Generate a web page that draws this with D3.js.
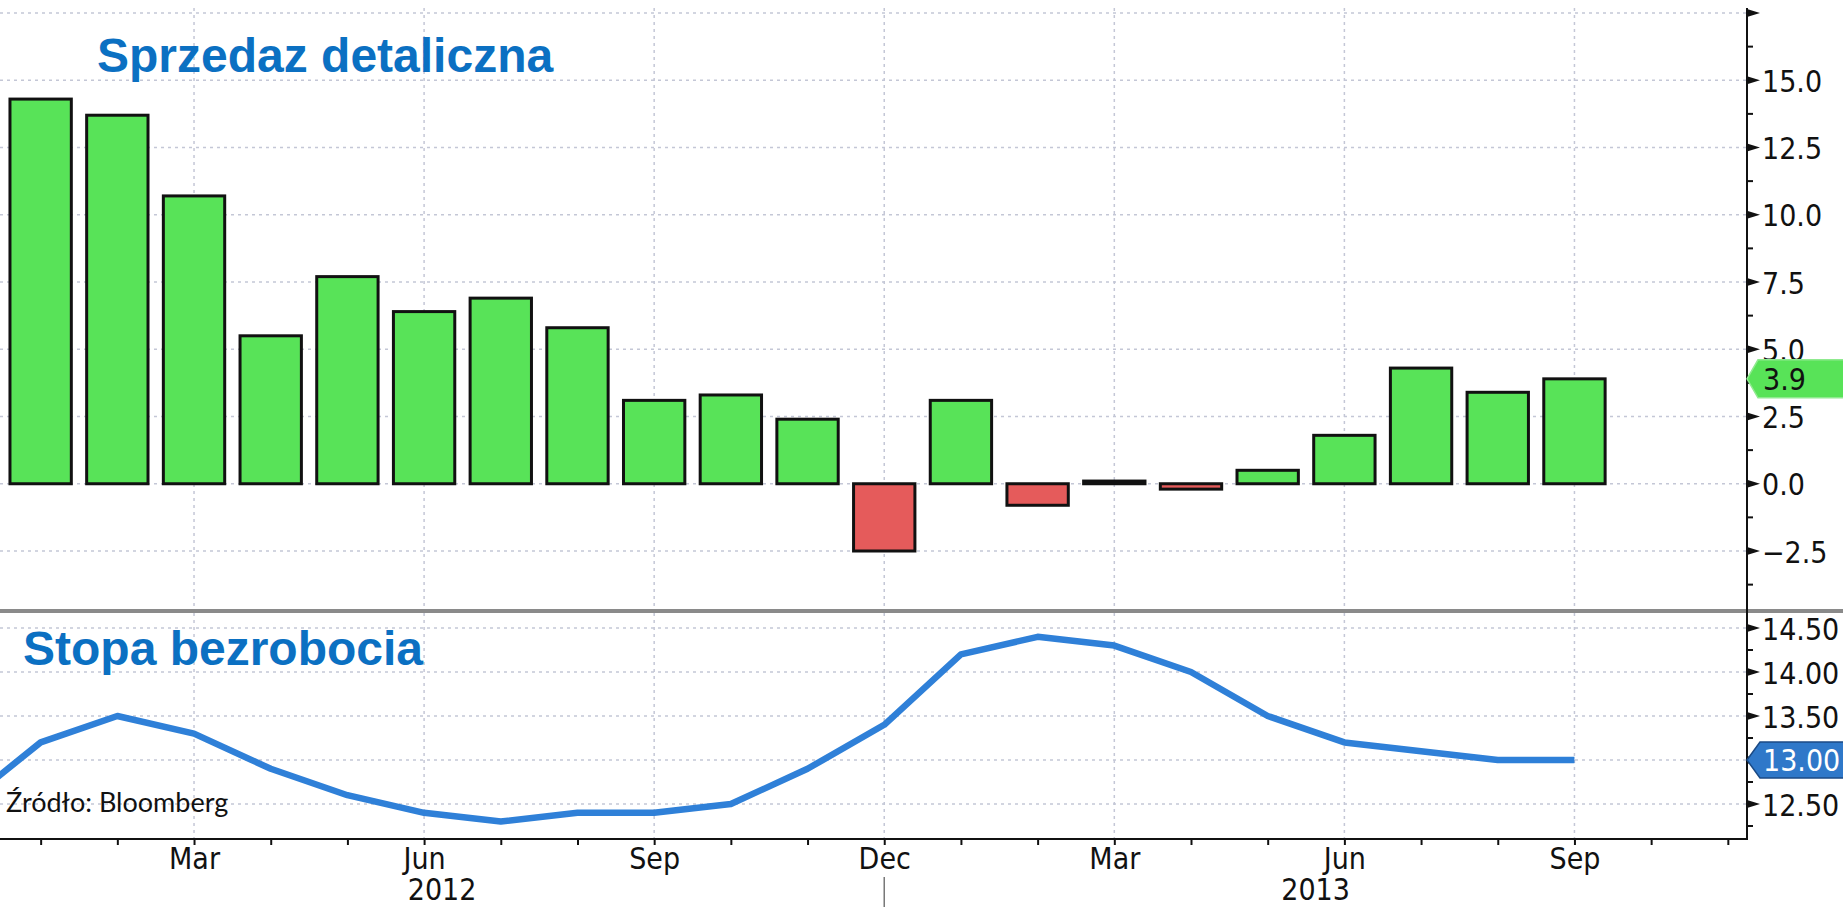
<!DOCTYPE html>
<html>
<head>
<meta charset="utf-8">
<script src="https://cdn.jsdelivr.net/npm/d3@7"></script>
<style>
  body { margin: 0; background: #fff; }
  svg { display: block; }
  .grid line { stroke: #c4c7d6; stroke-width: 1.5; stroke-dasharray: 3 4; }
  .axis text { font-family: 'DejaVu Sans Condensed', 'DejaVu Sans', sans-serif; font-size: 30px; fill: #111; }
  .title { font-family: 'Liberation Sans', Arial, sans-serif; font-weight: bold; font-size: 48px; fill: #0b70c2; }
  .source { font-family: Lato, 'Open Sans', sans-serif; font-size: 27px; fill: #111; }
  .tag-text { font-family: 'DejaVu Sans Condensed', 'DejaVu Sans', sans-serif; font-size: 30px; }
</style>
</head>
<body>
<div id="chart"></div>
<script>
// retail sales y/y (%) - bars
const salesMonths = ['2012-01','2012-02','2012-03','2012-04','2012-05','2012-06','2012-07','2012-08','2012-09','2012-10','2012-11','2012-12',
                     '2013-01','2013-02','2013-03','2013-04','2013-05','2013-06','2013-07','2013-08','2013-09'];
const retailSales = [14.3, 13.7, 10.7, 5.5, 7.7, 6.4, 6.9, 5.8, 3.1, 3.3, 2.4, -2.5,
                     3.1, -0.8, 0.1, -0.2, 0.5, 1.8, 4.3, 3.4, 3.9];

// unemployment rate (%) - line
const unempMonths = ['2011-12','2012-01','2012-02','2012-03','2012-04','2012-05','2012-06','2012-07','2012-08','2012-09','2012-10','2012-11','2012-12',
                     '2013-01','2013-02','2013-03','2013-04','2013-05','2013-06','2013-07','2013-08','2013-09'];
const unemployment = [12.5, 13.2, 13.5, 13.3, 12.9, 12.6, 12.4, 12.3, 12.4, 12.4, 12.5, 12.9, 13.4,
                      14.2, 14.4, 14.3, 14.0, 13.5, 13.2, 13.1, 13.0, 13.0];

// axis months (monthly ticks), quarters get a label
const axisMonths = ['2012-01','2012-02','2012-03','2012-04','2012-05','2012-06','2012-07','2012-08','2012-09','2012-10','2012-11','2012-12',
                    '2013-01','2013-02','2013-03','2013-04','2013-05','2013-06','2013-07','2013-08','2013-09','2013-10','2013-11'];
const yearLabels = ['2012', '2013'];

const topTicks = [-2.5, 0, 2.5, 5, 7.5, 10, 12.5, 15, 17.5];
const topMinor = [-3.75, -1.25, 1.25, 3.75, 6.25, 8.75, 11.25, 13.75, 16.25];
const bottomTicks = [12.5, 13, 13.5, 14, 14.5];
const bottomMinor = [12.25, 12.75, 13.25, 13.75, 14.25];

const titleTop = 'Sprzedaz detaliczna';
const titleBottom = 'Stopa bezrobocia';
const sourceText = 'Źródło: Bloomberg';

const width = 1843, height = 907;
const axisX = 1747;
const topPanel = {y0: 8, y1: 609};
const bottomPanel = {y0: 613, y1: 839};

const parseMonth = d3.timeParse('%Y-%m');
const monthIndex = s => {
  const d = parseMonth(s);
  return (d.getFullYear() - 2012) * 12 + d.getMonth();
};

const svg = d3.select('#chart').append('svg')
    .attr('width', width)
    .attr('height', height);

const xScale = d3.scaleLinear()
    .domain([-0.53, 22.25])
    .range([0, axisX]);

const yTop = d3.scaleLinear()
    .domain([-2.5, 17.5])
    .range([551, 13]);

const yBottom = d3.scaleLinear()
    .domain([12.5, 14.5])
    .range([804, 628]);

const step = xScale(1) - xScale(0);
const barW = step * 0.8;
const quarterMonths = axisMonths.filter(m => parseMonth(m).getMonth() % 3 === 2);

// gridlines
const grid = svg.append('g').attr('class', 'grid');
grid.selectAll('.hgrid-top')
    .data(topTicks)
    .join('line')
    .attr('x1', 0).attr('x2', axisX)
    .attr('y1', d => yTop(d)).attr('y2', d => yTop(d));
grid.selectAll('.hgrid-bottom')
    .data(bottomTicks)
    .join('line')
    .attr('x1', 0).attr('x2', axisX)
    .attr('y1', d => yBottom(d)).attr('y2', d => yBottom(d));
grid.selectAll('.vgrid-top')
    .data(quarterMonths)
    .join('line')
    .attr('x1', d => xScale(monthIndex(d))).attr('x2', d => xScale(monthIndex(d)))
    .attr('y1', topPanel.y0).attr('y2', topPanel.y1);
grid.selectAll('.vgrid-bottom')
    .data(quarterMonths)
    .join('line')
    .attr('x1', d => xScale(monthIndex(d))).attr('x2', d => xScale(monthIndex(d)))
    .attr('y1', bottomPanel.y0).attr('y2', bottomPanel.y1);

// bars
const barData = salesMonths.map((m, i) => ({month: m, value: retailSales[i]}));
svg.append('g').selectAll('rect')
    .data(barData)
    .join('rect')
    .attr('x', d => xScale(monthIndex(d.month)) - barW / 2)
    .attr('width', barW)
    .attr('y', d => Math.min(yTop(d.value), yTop(0)))
    .attr('height', d => Math.abs(yTop(d.value) - yTop(0)))
    .attr('fill', d => d.value >= 0 ? '#58e358' : '#e55b5b')
    .attr('stroke', '#111')
    .attr('stroke-width', 3);

// separator between panels
svg.append('line')
    .attr('x1', 0).attr('x2', width)
    .attr('y1', 611).attr('y2', 611)
    .attr('stroke', '#8a8a8a')
    .attr('stroke-width', 4);

// unemployment line
const lineData = unempMonths.map((m, i) => ({month: m, value: unemployment[i]}));
const line = d3.line()
    .x(d => xScale(monthIndex(d.month)))
    .y(d => yBottom(d.value));
svg.append('path')
    .datum(lineData)
    .attr('d', line)
    .attr('fill', 'none')
    .attr('stroke', '#2f80d8')
    .attr('stroke-width', 6.5)
    .attr('stroke-linejoin', 'round');

// titles and source
svg.append('text').attr('class', 'title').attr('x', 97).attr('y', 72).text(titleTop);
svg.append('text').attr('class', 'title').attr('x', 23).attr('y', 665).text(titleBottom);
svg.append('text').attr('class', 'source').attr('x', 6).attr('y', 812).text(sourceText);

// x axis
const xAxis = d3.axisBottom(xScale)
    .tickValues(axisMonths.map(monthIndex))
    .tickSize(6)
    .tickSizeOuter(0)
    .tickFormat(i => {
      const d = d3.timeMonth.offset(parseMonth('2012-01'), i);
      return d.getMonth() % 3 === 2 ? d3.timeFormat('%b')(d) : '';
    });
const xAxisG = svg.append('g')
    .attr('class', 'axis')
    .attr('transform', `translate(0,${bottomPanel.y1})`)
    .call(xAxis);
xAxisG.select('.domain').remove();
xAxisG.selectAll('.tick line').attr('stroke', '#111').attr('stroke-width', 2);
xAxisG.selectAll('.tick text').attr('y', 30).attr('dy', 0);
svg.append('line')
    .attr('x1', 0).attr('x2', axisX)
    .attr('y1', bottomPanel.y1).attr('y2', bottomPanel.y1)
    .attr('stroke', '#111').attr('stroke-width', 2);

// year labels and year boundary
const boundaryX = xScale(monthIndex('2012-12'));
svg.append('line')
    .attr('x1', boundaryX).attr('x2', boundaryX)
    .attr('y1', 877).attr('y2', height)
    .attr('stroke', '#777').attr('stroke-width', 1.5);
svg.append('g').attr('class', 'axis').selectAll('text')
    .data(yearLabels)
    .join('text')
    .attr('x', (d, i) => i === 0 ? boundaryX / 2 : (boundaryX + axisX) / 2)
    .attr('y', 900)
    .attr('text-anchor', 'middle')
    .text(d => d);

// right axes
function rightAxis(scale, ticks, minor, fmt, showLabel, y0, y1) {
  const g = svg.append('g').attr('class', 'axis').attr('transform', `translate(${axisX},0)`);
  g.call(d3.axisRight(scale)
      .tickValues(ticks.filter(showLabel))
      .tickSize(0)
      .tickPadding(15)
      .tickFormat(fmt));
  g.select('.domain').remove();
  g.selectAll('.tick text').attr('dy', '0.37em');
  g.selectAll('.marker')
      .data(ticks)
      .join('path')
      .attr('d', d => `M0,${scale(d) - 4}L13,${scale(d)}L0,${scale(d) + 4}Z`)
      .attr('fill', '#111');
  g.selectAll('.minor')
      .data(minor.filter(d => scale(d) > y0 && scale(d) < y1))
      .join('line')
      .attr('x1', 0).attr('x2', 6)
      .attr('y1', d => scale(d)).attr('y2', d => scale(d))
      .attr('stroke', '#111').attr('stroke-width', 2);
}
rightAxis(yTop, topTicks, topMinor, d3.format('.1f'), d => d < 17.5, topPanel.y0, topPanel.y1);
rightAxis(yBottom, bottomTicks, bottomMinor, d3.format('.2f'), () => true, bottomPanel.y0, bottomPanel.y1);
svg.append('line')
    .attr('x1', axisX).attr('x2', axisX)
    .attr('y1', topPanel.y0).attr('y2', bottomPanel.y1 + 1)
    .attr('stroke', '#111').attr('stroke-width', 2);

// last value tags
function lastTag(y, label, fill, stroke, textFill, half, inset) {
  svg.append('path')
      .attr('d', `M${axisX},${y}L${axisX + inset},${y - half}L${width + 5},${y - half}L${width + 5},${y + half}L${axisX + inset},${y + half}Z`)
      .attr('fill', fill)
      .attr('stroke', stroke)
      .attr('stroke-width', 1.5);
  svg.append('text')
      .attr('class', 'tag-text')
      .attr('x', axisX + 16)
      .attr('y', y)
      .attr('dy', '0.37em')
      .attr('fill', textFill)
      .text(label);
}
lastTag(yTop(retailSales[retailSales.length - 1]), d3.format('.1f')(retailSales[retailSales.length - 1]),
        '#58e358', '#8fea8f', '#111', 19, 11);
lastTag(yBottom(unemployment[unemployment.length - 1]), d3.format('.2f')(unemployment[unemployment.length - 1]),
        '#2f78c9', '#1b4a85', '#fff', 18, 13);
</script>
</body>
</html>
